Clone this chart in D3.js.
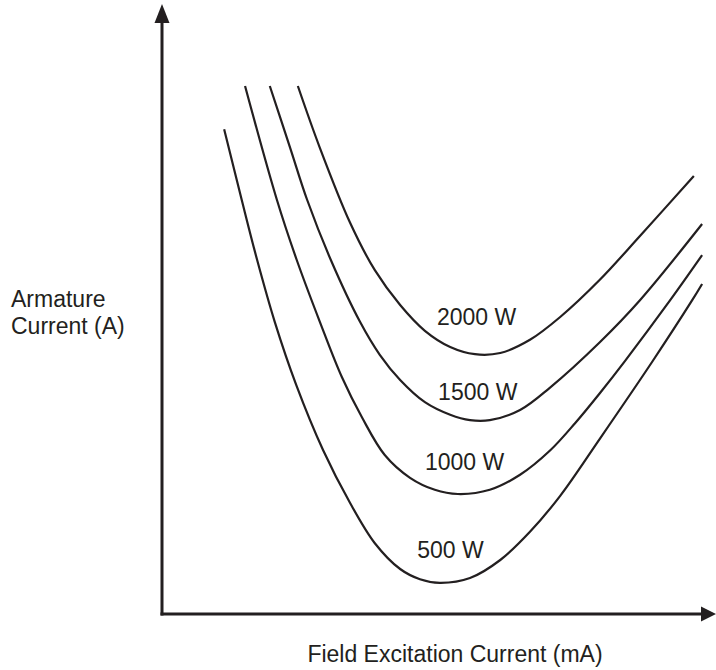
<!DOCTYPE html>
<html>
<head>
<meta charset="utf-8">
<script src="https://cdn.jsdelivr.net/npm/d3@7"></script>
<style>
  html, body { margin: 0; padding: 0; background: #fff; }
  svg { display: block; }
  text { font-family: "Liberation Sans", Arial, Helvetica, sans-serif; fill: #231f20; }
</style>
</head>
<body>
<svg id="chart" width="716" height="670"></svg>
<script>
// ---- data (arbitrary units; the chart has no tick values) ----
const seriesNames = ["500 W", "1000 W", "1500 W", "2000 W"];

const curve500 = [
  [1.13, 8.08], [1.45, 6.90], [1.73, 5.90], [2.05, 4.87], [2.44, 3.82], [2.93, 2.73],
  [3.42, 1.85], [3.87, 1.18], [4.33, 0.75], [4.69, 0.58], [5.05, 0.52], [5.60, 0.60],
  [6.15, 0.90], [6.69, 1.37], [7.24, 1.97], [7.96, 2.92], [8.91, 4.20], [9.64, 5.23], [9.82, 5.50]
];
const curve1000 = [
  [1.51, 8.80], [2.09, 6.90], [2.45, 5.90], [2.87, 4.87], [3.27, 3.95], [3.64, 3.27],
  [4.05, 2.65], [4.51, 2.27], [4.96, 2.07], [5.38, 2.00], [5.96, 2.07], [6.51, 2.32],
  [7.05, 2.72], [7.51, 3.18], [7.96, 3.68], [8.42, 4.22], [9.24, 5.23], [9.82, 5.98]
];
const curve1500 = [
  [1.96, 8.80], [2.33, 7.77], [2.64, 6.90], [3.07, 5.90], [3.60, 4.87], [3.96, 4.32],
  [4.33, 3.90], [4.78, 3.53], [5.24, 3.32], [5.60, 3.23], [5.96, 3.23], [6.51, 3.40],
  [7.05, 3.77], [7.96, 4.53], [8.69, 5.23], [9.82, 6.50]
];
const curve2000 = [
  [2.47, 8.80], [2.87, 7.77], [3.42, 6.52], [3.87, 5.73], [4.33, 5.15], [4.78, 4.72],
  [5.24, 4.45], [5.69, 4.33], [6.15, 4.35], [6.69, 4.57], [7.24, 4.95], [7.96, 5.57],
  [8.69, 6.30], [9.67, 7.30]
];
const curves = [curve500, curve1000, curve1500, curve2000];

// label anchor (start x, baseline y) in data units
const labelPos = [[4.64, 0.93], [4.78, 2.40], [5.02, 3.57], [5.00, 4.82]];

const xTitle = "Field Excitation Current (mA)";
const yTitle = ["Armature", "Current (A)"];

// ---- layout ----
const svg = d3.select("#chart");
const ink = "#231f20";
const x = d3.scaleLinear().domain([0, 10]).range([162, 712]);
const y = d3.scaleLinear().domain([0, 10]).range([614, 14]);

// axes with arrowheads
const axisG = svg.append("g");
axisG.append("line")
  .attr("x1", x(0)).attr("y1", y(0) + 1.5)
  .attr("x2", x(0)).attr("y2", 20)
  .attr("stroke", ink).attr("stroke-width", 3);
axisG.append("line")
  .attr("x1", x(0) - 1.5).attr("y1", y(0))
  .attr("x2", 704).attr("y2", y(0))
  .attr("stroke", ink).attr("stroke-width", 3);
// up arrow
axisG.append("path")
  .attr("d", `M${x(0)},4 L${x(0) + 7.5},23 L${x(0) - 7.5},23 Z`)
  .attr("fill", ink);
// right arrow
axisG.append("path")
  .attr("d", `M716,${y(0)} L701,${y(0) - 7.5} L701,${y(0) + 7.5} Z`)
  .attr("fill", ink);

// curves
const line = d3.line()
  .x(d => x(d[0]))
  .y(d => y(d[1]))
  .curve(d3.curveCatmullRom.alpha(0.5));

svg.append("g").selectAll("path")
  .data(curves)
  .join("path")
  .attr("d", line)
  .attr("fill", "none")
  .attr("stroke", ink)
  .attr("stroke-width", 2.2)
  .attr("stroke-linecap", "butt");

// curve labels
svg.append("g").selectAll("text")
  .data(seriesNames)
  .join("text")
  .attr("x", (d, i) => x(labelPos[i][0]))
  .attr("y", (d, i) => y(labelPos[i][1]))
  .attr("font-size", 23)
  .text(d => d);

// axis titles
svg.append("text")
  .attr("x", 455)
  .attr("y", 662)
  .attr("text-anchor", "middle")
  .attr("font-size", 23)
  .text(xTitle);

svg.append("g").selectAll("text")
  .data(yTitle)
  .join("text")
  .attr("x", 11)
  .attr("y", (d, i) => 307 + i * 27)
  .attr("font-size", 23)
  .text(d => d);
</script>
</body>
</html>
